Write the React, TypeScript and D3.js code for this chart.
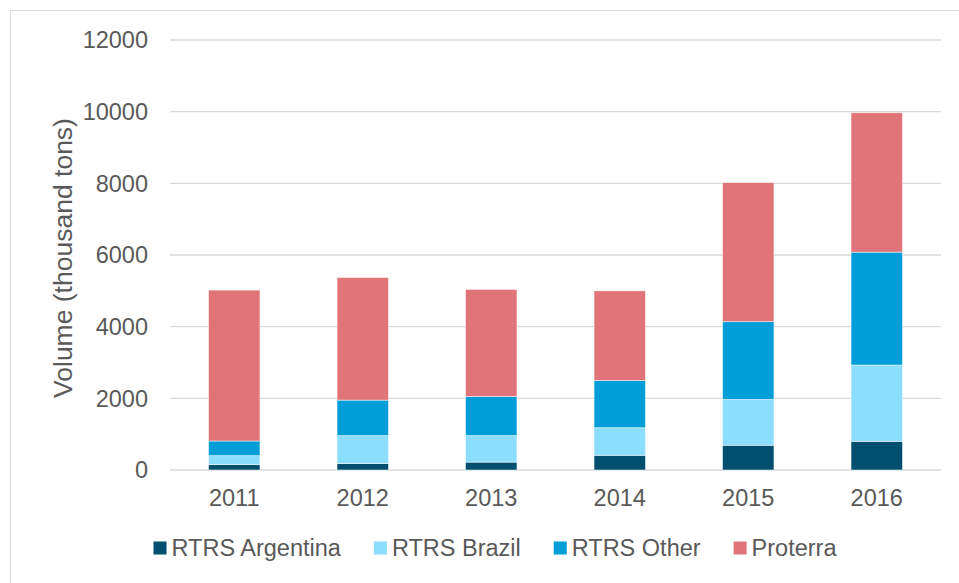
import React, { useEffect, useRef } from "react";
import * as d3 from "d3";

const years = ["2011", "2012", "2013", "2014", "2015", "2016"];
const seriesNames = ["RTRS Argentina", "RTRS Brazil", "RTRS Other", "Proterra"];
const seriesColors = ["#014f6e", "#8cdeff", "#009ed9", "#e07478"];

const rtrsArgentina = [150, 180, 220, 410, 690, 800];
const rtrsBrazil = [250, 780, 740, 770, 1280, 2130];
const rtrsOther = [410, 990, 1090, 1320, 2170, 3150];
const proterra = [4210, 3420, 2990, 2500, 3880, 3890];

const yTicks = [0, 2000, 4000, 6000, 8000, 10000, 12000];

const App: React.FC = () => {
  const svgRef = useRef<SVGSVGElement>(null);
  const width = 959;
  const height = 583;
  const margin = { top: 40, right: 18, bottom: 113, left: 170 };

  useEffect(() => {
    if (!svgRef.current) return;
    const svg = d3.select(svgRef.current);
    svg.selectAll("*").remove();

    const font = "'Liberation Sans', Arial, sans-serif";
    const textColor = "#595959";
    const innerWidth = width - margin.left - margin.right;
    const innerHeight = height - margin.top - margin.bottom;

    // outer frame (only left and top edges are visible)
    svg
      .append("rect")
      .attr("x", 10.5)
      .attr("y", 10.5)
      .attr("width", width + 20)
      .attr("height", height + 20)
      .attr("fill", "#ffffff")
      .attr("stroke", "#d9d9d9")
      .attr("stroke-width", 1);

    const rows = years.map((year, i) => ({
      year,
      "RTRS Argentina": rtrsArgentina[i],
      "RTRS Brazil": rtrsBrazil[i],
      "RTRS Other": rtrsOther[i],
      Proterra: proterra[i],
    }));

    const stacked = d3.stack<any>().keys(seriesNames)(rows);

    const x = d3
      .scaleBand()
      .domain(years)
      .range([0, innerWidth])
      .paddingInner(0.6)
      .paddingOuter(0.3);
    const y = d3.scaleLinear().domain([0, 12000]).range([innerHeight, 0]);

    const g = svg
      .append("g")
      .attr("transform", `translate(${margin.left},${margin.top})`);

    // grid lines
    g.append("g")
      .selectAll("line")
      .data(yTicks)
      .enter()
      .append("line")
      .attr("x1", 0)
      .attr("x2", innerWidth)
      .attr("y1", (d) => y(d))
      .attr("y2", (d) => y(d))
      .attr("stroke", "#d9d9d9")
      .attr("stroke-width", 1.3);

    // y tick labels
    g.append("g")
      .selectAll("text")
      .data(yTicks)
      .enter()
      .append("text")
      .attr("x", -22)
      .attr("y", (d) => y(d))
      .attr("dy", "0.35em")
      .attr("text-anchor", "end")
      .attr("fill", textColor)
      .attr("font-family", font)
      .attr("font-size", "23.5px")
      .text((d) => d);

    // bars
    stacked.forEach((layer, si) => {
      g.append("g")
        .selectAll("rect")
        .data(layer)
        .enter()
        .append("rect")
        .attr("x", (d: any) => x(d.data.year) || 0)
        .attr("y", (d) => y(d[1]))
        .attr("width", x.bandwidth())
        .attr("height", (d) => y(d[0]) - y(d[1]))
        .attr("fill", seriesColors[si])
        .attr("stroke", "#ffffff")
        .attr("stroke-opacity", 0.6)
        .attr("stroke-width", 0.8);
    });

    // x labels
    g.append("g")
      .selectAll("text")
      .data(years)
      .enter()
      .append("text")
      .attr("x", (d) => (x(d) || 0) + x.bandwidth() / 2)
      .attr("y", innerHeight + 36)
      .attr("text-anchor", "middle")
      .attr("fill", textColor)
      .attr("font-family", font)
      .attr("font-size", "23.5px")
      .text((d) => d);

    // y axis title
    svg
      .append("text")
      .attr("transform", `translate(72,${margin.top + innerHeight / 2 + 3}) rotate(-90)`)
      .attr("text-anchor", "middle")
      .attr("fill", textColor)
      .attr("font-family", font)
      .attr("font-size", "26.5px")
      .text("Volume (thousand tons)");

    // legend
    const legend = svg.append("g").attr("transform", `translate(0,548)`);
    const items = seriesNames.map((name, i) => {
      const item = legend.append("g");
      item
        .append("rect")
        .attr("x", 0)
        .attr("y", -6.5)
        .attr("width", 13)
        .attr("height", 13)
        .attr("fill", seriesColors[i]);
      const t = item
        .append("text")
        .attr("x", 18)
        .attr("dy", "0.35em")
        .attr("fill", textColor)
        .attr("font-family", font)
        .attr("font-size", "23.5px")
        .text(name);
      const w = 18 + (t.node() as SVGTextElement).getComputedTextLength();
      return { item, w };
    });
    const gap = 33;
    const total = d3.sum(items, (d) => d.w) + gap * (items.length - 1);
    let cursor = 495 - total / 2;
    items.forEach(({ item, w }) => {
      item.attr("transform", `translate(${cursor},0)`);
      cursor += w + gap;
    });
  }, []);

  return (
    <svg
      ref={svgRef}
      width={width}
      height={height}
      style={{ position: "absolute", left: 0, top: 0, background: "#ffffff" }}
    />
  );
};

export default App;
